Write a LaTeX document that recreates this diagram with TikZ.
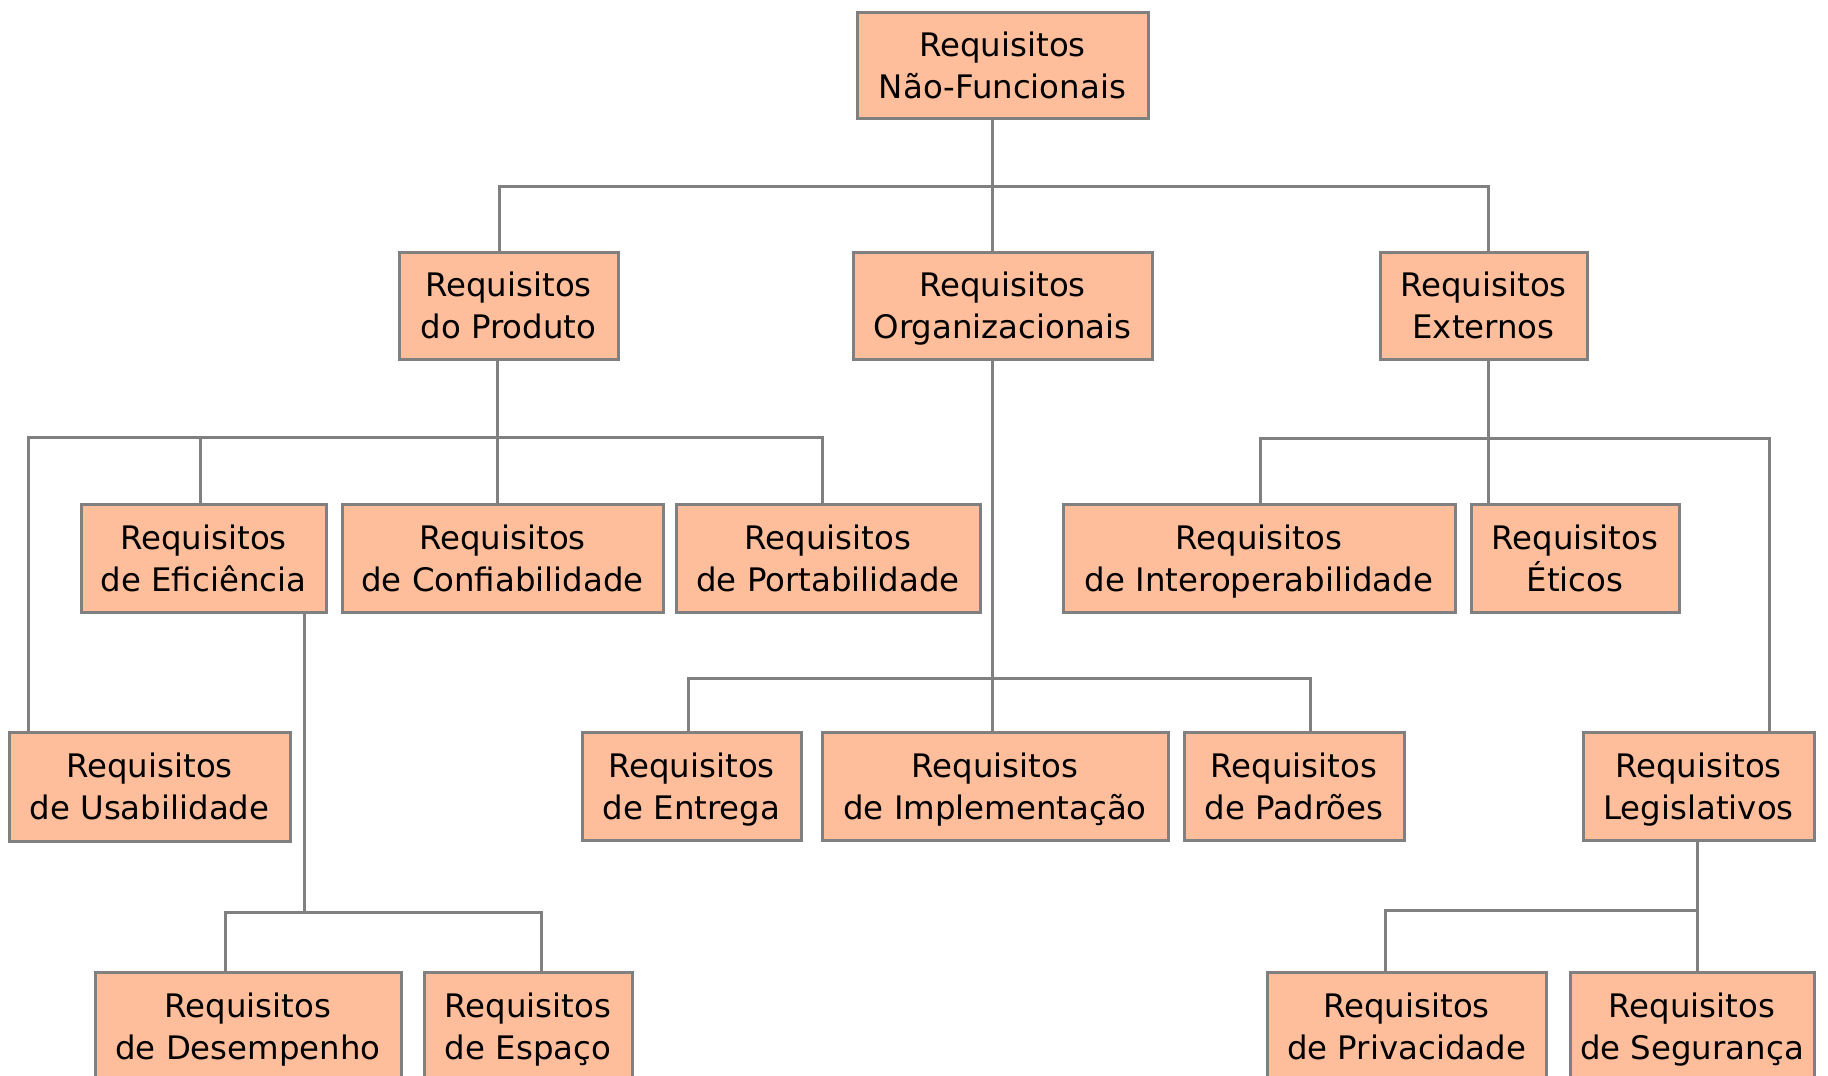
\documentclass[tikz,border=0pt]{standalone}
\usepackage{fontspec}
\setmainfont{DejaVu Sans}
\definecolor{boxfill}{HTML}{FFBE9B}
\definecolor{edge}{HTML}{808080}
\begin{document}
\begin{tikzpicture}[x=0.5pt,y=-0.5pt,
  box/.style={draw=edge, line width=1.5pt, fill=boxfill, rectangle, inner sep=0pt,
    align=center, font=\fontsize{16.2}{21}\selectfont, text=black},
  conn/.style={draw=edge, line width=1.5pt}]
\useasboundingbox (0,0) rectangle (1828,1076);
\clip (0,0) rectangle (1828,1076);
\newcommand{\bx}[6]{\node[box, minimum width=(#4-#3)*0.5pt, minimum height=(#6-#5)*0.5pt] (#1) at ({(#3+#4)/2},{(#5+#6)/2}) {\rule{0pt}{18.4pt}Requisitos\\\strut #2};}
\bx{top}{Não-Funcionais}{857}{1148}{12}{118}
\bx{prod}{do Produto}{399}{618}{252}{359}
\bx{org}{Organizacionais}{853}{1152}{252}{359}
\bx{ext}{Externos}{1380}{1587}{252}{359}
\bx{efi}{de Eficiência}{81}{326}{504}{612}
\bx{conf}{de Confiabilidade}{342}{663}{504}{612}
\bx{port}{de Portabilidade}{676}{980}{504}{612}
\bx{inter}{de Interoperabilidade}{1063}{1455}{504}{612}
\bx{eti}{Éticos}{1471}{1679}{504}{612}
\bx{usab}{de Usabilidade}{9}{290}{732}{841}
\bx{entr}{de Entrega}{582}{801}{732}{840}
\bx{impl}{de Implementação}{822}{1168}{732}{840}
\bx{padr}{de Padrões}{1184}{1404}{732}{840}
\bx{legi}{Legislativos}{1583}{1814}{732}{840}
\bx{dese}{de Desempenho}{95}{401}{972}{1080}
\bx{espa}{de Espaço}{424}{632}{972}{1080}
\bx{priv}{de Privacidade}{1267}{1546}{972}{1080}
\bx{segu}{de Segurança}{1570}{1814}{972}{1080}
% level 1 -> 2
\draw[conn] (top.south -| 992,0) -- (org.north -| 992,0);
\draw[conn] (prod.north -| 499,0) -- (499,186) -- (1488,186) -- (ext.north -| 1488,0);
% produto
\draw[conn] (prod.south -| 497,0) -- (conf.north -| 497,0);
\draw[conn] (usab.north -| 28,0) -- (28,437) -- (822,437) -- (port.north -| 822,0);
\draw[conn] (efi.north -| 200,0) -- (200,437);
% eficiencia
\draw[conn] (efi.south -| 304,0) -- (304,912);
\draw[conn] (dese.north -| 225,0) -- (225,912) -- (541,912) -- (espa.north -| 541,0);
% organizacionais
\draw[conn] (org.south -| 992,0) -- (impl.north -| 992,0);
\draw[conn] (entr.north -| 688,0) -- (688,678) -- (1310,678) -- (padr.north -| 1310,0);
% externos
\draw[conn] (ext.south -| 1488,0) -- (eti.north -| 1488,0);
\draw[conn] (inter.north -| 1260,0) -- (1260,438) -- (1769,438) -- (legi.north -| 1769,0);
% legislativos
\draw[conn] (legi.south -| 1697,0) -- (segu.north -| 1697,0);
\draw[conn] (priv.north -| 1385,0) -- (1385,910) -- (1697,910);
\end{tikzpicture}
\end{document}
